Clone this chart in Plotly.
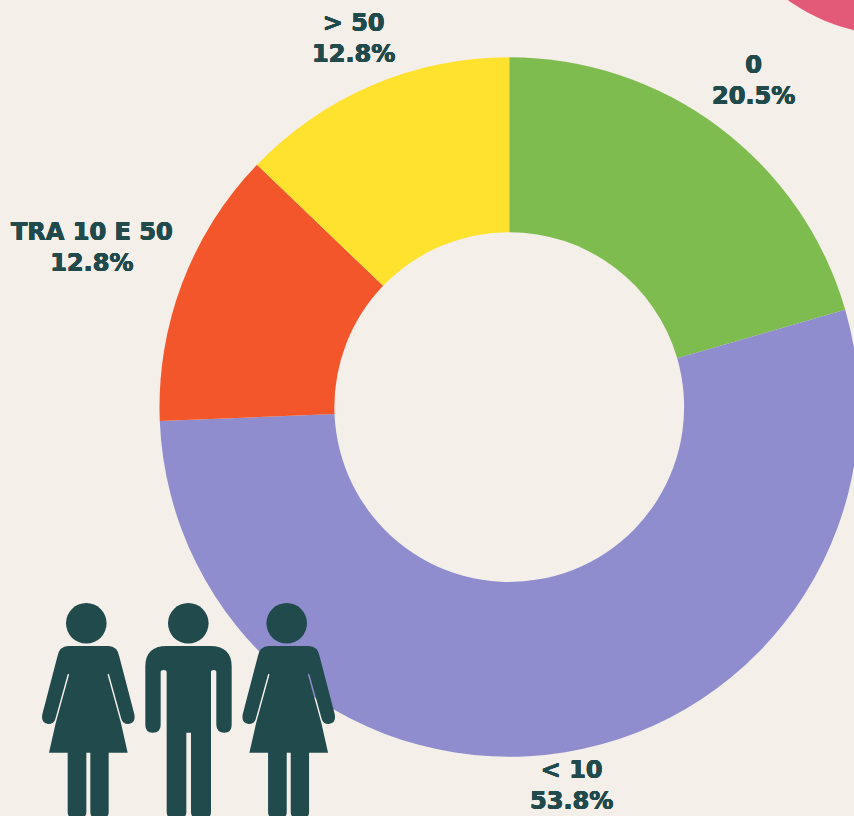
import plotly.graph_objects as go

# Data
categories = ["0", "< 10", "TRA 10 E 50", "> 50"]
counts = [8, 21, 5, 5]
colors = ["#7FBC50", "#908DCF", "#F3562B", "#FFE22E"]
label_x = [753, 571, 92, 353]
label_y = [80, 785, 247, 38]

W, H = 859, 816
BG = "#F4EFE9"
INK = "#214A4D"
total = sum(counts)


def zoom_path(points_str, dx=0.0):
    """Convert a path written in 3x crop coordinates to page pixels."""
    out = []
    for tok in points_str.split():
        if "," in tok:
            a, b = tok.split(",")
            out.append(f"{30 + float(a) / 3 + dx:.2f},{595 + float(b) / 3:.2f}")
        else:
            out.append(tok)
    return " ".join(out)


WOMAN = ("M 115,153 L 235,153 Q 262,153 268,185 L 313,358 Q 318,384 295,387 Q 278,387 274,372 "
         "L 237,238 Q 233,233 233,240 L 273,385 L 293,473 L 236,473 L 236,652 Q 236,668 220,668 "
         "L 197,668 Q 181,668 181,652 L 181,473 L 169,473 L 169,652 Q 169,668 153,668 L 129,668 "
         "Q 113,668 113,652 L 113,473 L 57,473 L 77,385 L 117,240 Q 117,233 113,238 L 76,372 "
         "Q 72,387 55,387 Q 32,384 37,358 L 82,185 Q 88,153 115,153 Z")
MAN = ("M 410,153 L 540,153 Q 605,153 605,215 L 605,390 Q 605,413 583,413 Q 560,413 559,390 "
       "L 559,232 Q 559,225 551,225 Q 543,225 543,232 L 543,652 Q 543,668 527,668 L 499,668 "
       "Q 483,668 483,652 L 483,413 L 469,413 L 469,652 Q 469,668 453,668 L 426,668 Q 410,668 410,652 "
       "L 410,232 Q 410,225 401,225 Q 392,225 392,232 L 392,390 Q 392,413 368,413 Q 346,413 346,390 "
       "L 346,215 Q 346,153 410,153 Z")


def head(cx, cy=623.3, r=20.3):
    return dict(type="circle", xref="x", yref="y", x0=cx - r, x1=cx + r, y0=cy - r, y1=cy + r,
                fillcolor=INK, line_width=0, layer="above")


def body(path):
    return dict(type="path", xref="x", yref="y", path=path, fillcolor=INK, line_width=0, layer="above")


shapes = [
    dict(type="circle", xref="x", yref="y", x0=711, x1=1081, y0=-335, y1=35,
         fillcolor="#E35A78", line_width=0, layer="below"),
    head(86.3), body(zoom_path(WOMAN)),
    head(188.3), body(zoom_path(MAN)),
    head(286.7), body(zoom_path(WOMAN, 200.4)),
]

annotations = [
    dict(x=x, y=y, xref="x", yref="y", showarrow=False, align="center",
         text=f"{c}<br>{v / total * 100:.1f}%",
         font=dict(family="DejaVu Sans", size=24, color=INK, weight=700,
                   shadow=f"0.45px 0 0 {INK}, -0.45px 0 0 {INK}, 0 0.3px 0 {INK}, 0 -0.3px 0 {INK}"))
    for c, v, x, y in zip(categories, counts, label_x, label_y)
]

fig = go.Figure(go.Pie(
    labels=categories, values=counts, hole=0.5, sort=False, direction="clockwise", rotation=0,
    marker=dict(colors=colors, line=dict(width=0)), textinfo="none", hoverinfo="label+percent",
    domain=dict(x=[159.5 / W, 1], y=[1 - 757 / H, 1 - 57 / H]), showlegend=False,
))
fig.update_layout(
    width=W, height=H, margin=dict(l=0, r=0, t=0, b=0, pad=0),
    paper_bgcolor=BG, plot_bgcolor=BG,
    xaxis=dict(range=[0, W], visible=False, domain=[0, 1], fixedrange=True),
    yaxis=dict(range=[H, 0], visible=False, domain=[0, 1], fixedrange=True),
    shapes=shapes, annotations=annotations,
)
fig.write_html(
    "out.html",
    config=dict(displayModeBar=False),
    post_script="document.body.style.margin='0';document.body.style.overflow='hidden';"
                "document.documentElement.style.overflow='hidden';"
                f"document.body.style.background='{BG}';",
)
